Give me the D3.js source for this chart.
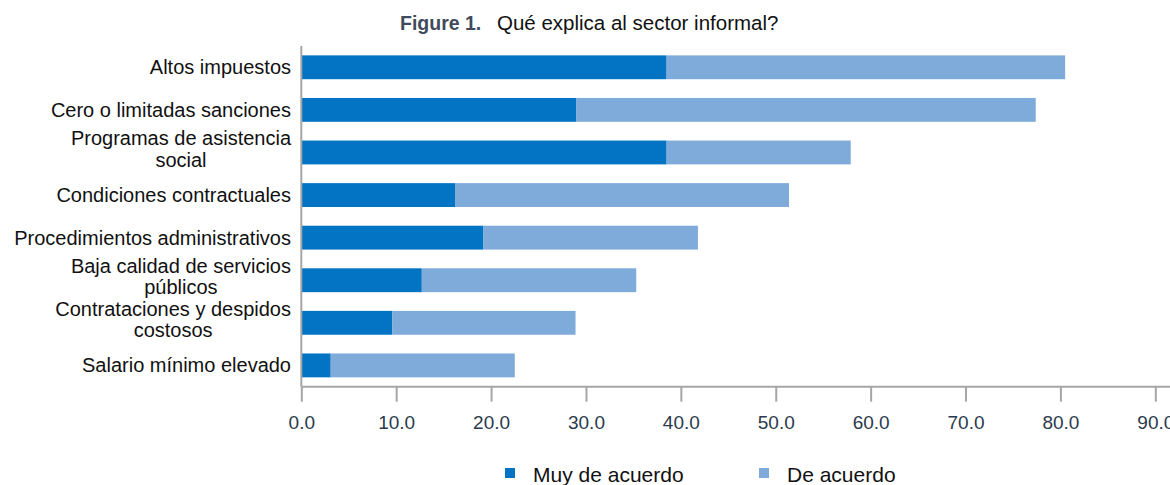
<html>
  <head>
    <title>Figure 1</title>
    <script src="https://d3js.org/d3.v7.min.js"></script>
    <style type="text/css">
      body { margin: 0; background: #fff; }
      .cat text { font: 20px "Liberation Sans", Arial, sans-serif; fill: #111; }
      .axis text { font: 19px "Liberation Sans", Arial, sans-serif; fill: #2b3a4c; }
      .axis line { stroke: #a6a6a6; stroke-width: 2; }
      .legend text { font: 21px "Liberation Sans", Arial, sans-serif; fill: #111; }
    </style>
  </head>
  <body>
    <svg id="chart" width=1170 height=485></svg>
  </body>

  <script type="text/javascript">

    // data
    var categories = [
      ["Altos impuestos"],
      ["Cero o limitadas sanciones"],
      ["Programas de asistencia", "social"],
      ["Condiciones contractuales"],
      ["Procedimientos administrativos"],
      ["Baja calidad de servicios", "públicos"],
      ["Contrataciones y despidos", "costosos"],
      ["Salario mínimo elevado"]
    ];
    var muyDeAcuerdo = [38.5, 29.0, 38.5, 16.2, 19.2, 12.7, 9.6, 3.1];
    var deAcuerdo    = [42.0, 48.4, 19.4, 35.2, 22.6, 22.6, 19.3, 19.4];
    var seriesNames = ["Muy de acuerdo", "De acuerdo"];
    var seriesColors = ["#0373c3", "#7eabda"];
    var xTicks = [0, 10, 20, 30, 40, 50, 60, 70, 80, 90];

    var svg = d3.select("#chart");

    var x = d3.scaleLinear().domain([0, 90]).range([301.3, 1155.3]);

    var keys = categories.map(function(c) { return c.join(" "); });
    var y = d3.scaleBand()
      .domain(keys)
      .range([46, 386.7])
      .paddingInner(0.44)
      .paddingOuter(0.22);

    var rows = keys.map(function(k, i) {
      return { key: k, lines: categories[i], a: muyDeAcuerdo[i], b: deAcuerdo[i] };
    });

    // title
    svg.append("text")
      .attr("x", 400).attr("y", 30)
      .style("font", "bold 19.5px 'Liberation Sans Narrow', 'Liberation Sans', Arial, sans-serif")
      .style("fill", "#3f4b5c")
      .text("Figure 1.");
    svg.append("text")
      .attr("x", 497).attr("y", 30)
      .style("font", "20.5px 'Liberation Sans', Arial, sans-serif")
      .style("fill", "#111")
      .text("Qué explica al sector informal?");

    // bars
    var bars = svg.append("g");
    bars.selectAll("rect.a")
      .data(rows).enter().append("rect")
      .attr("class", "a")
      .attr("x", x(0))
      .attr("y", function(d) { return y(d.key); })
      .attr("width", function(d) { return x(d.a) - x(0); })
      .attr("height", y.bandwidth())
      .attr("fill", seriesColors[0]);
    bars.selectAll("rect.b")
      .data(rows).enter().append("rect")
      .attr("class", "b")
      .attr("x", function(d) { return x(d.a); })
      .attr("y", function(d) { return y(d.key); })
      .attr("width", function(d) { return x(d.a + d.b) - x(d.a); })
      .attr("height", y.bandwidth())
      .attr("fill", seriesColors[1]);

    // category labels, wrapped lines centred on each other
    var cat = svg.append("g").attr("class", "cat");
    var labelRight = 291;
    var lineGap = 21.3;
    rows.forEach(function(d) {
      var cy = y(d.key) + y.bandwidth() / 2;
      var g = cat.append("g");
      var n = d.lines.length;
      var texts = d.lines.map(function(line, j) {
        var base = n == 1 ? cy + 7 : cy + 3.5 + (j - 0.5) * lineGap;
        return g.append("text").attr("y", base).text(line);
      });
      var w = d3.max(texts, function(t) { return t.node().getComputedTextLength(); });
      texts.forEach(function(t) {
        t.attr("x", labelRight - w / 2).attr("text-anchor", "middle");
      });
    });

    // axes
    var axisY = 386.7;
    var xAxis = d3.axisBottom(x)
      .tickValues(xTicks)
      .tickSize(15)
      .tickPadding(14)
      .tickFormat(d3.format(".1f"));
    var ax = svg.append("g")
      .attr("class", "axis")
      .attr("transform", "translate(0," + axisY + ")")
      .call(xAxis);
    ax.select(".domain").remove();

    svg.append("line")
      .attr("x1", x(0)).attr("x2", 1170)
      .attr("y1", axisY).attr("y2", axisY)
      .attr("stroke", "#a6a6a6").attr("stroke-width", 2);
    svg.append("line")
      .attr("x1", x(0)).attr("x2", x(0))
      .attr("y1", 46).attr("y2", axisY)
      .attr("stroke", "#a6a6a6").attr("stroke-width", 2);

    // legend
    var legendX = [505, 759];
    var legend = svg.append("g").attr("class", "legend");
    seriesNames.forEach(function(name, i) {
      legend.append("rect")
        .attr("x", legendX[i]).attr("y", 468)
        .attr("width", 10).attr("height", 10)
        .attr("fill", seriesColors[i]);
      legend.append("text")
        .attr("x", legendX[i] + 28).attr("y", 482)
        .text(name);
    });

  </script>
</html>
